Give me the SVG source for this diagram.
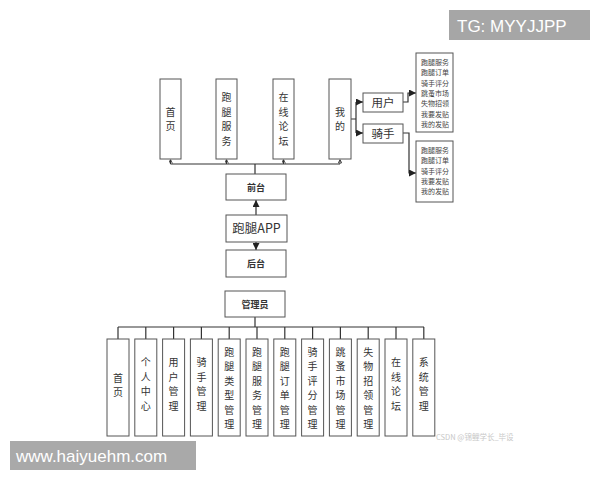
<svg xmlns="http://www.w3.org/2000/svg" width="600" height="480" viewBox="0 0 600 480">
<defs>
<style>
.b{fill:#fff;stroke:#555;stroke-width:1}
.t{font-family:"Noto Sans CJK SC","Liberation Serif",serif;font-size:10px;fill:#333;text-anchor:middle}
.l{font-family:"Noto Sans CJK SC","Liberation Serif",serif;font-size:11.5px;fill:#333;text-anchor:middle}
.s{font-family:"Noto Sans CJK SC","Liberation Sans",sans-serif;font-size:7px;fill:#444}
.m{font-family:"Noto Sans CJK SC","Liberation Sans",sans-serif;font-size:9px;fill:#333;text-anchor:middle;font-weight:bold}
.c{fill:none;stroke:#333;stroke-width:1.2}
.w{font-family:"Liberation Sans",Arial,sans-serif;fill:#fff}
</style>
<marker id="a" viewBox="0 0 10 10" refX="10" refY="5" markerWidth="7" markerHeight="7" markerUnits="userSpaceOnUse" orient="auto"><path d="M0 0L10 5L0 10z" fill="#222"/></marker>
<marker id="u" viewBox="0 0 10 10" refX="10" refY="5" markerWidth="4" markerHeight="4" markerUnits="userSpaceOnUse" orient="auto"><path d="M0 0L10 5L0 10" fill="none" stroke="#333" stroke-width="2"/></marker>
</defs>
<rect width="600" height="480" fill="#fff"/>

<g id="connectors">
<path class="c" d="M170.5 164H340M255 164V174"/>
<path class="c" d="M170.5 164V159.5" marker-end="url(#u)"/>
<path class="c" d="M226.5 164V159.5" marker-end="url(#u)"/>
<path class="c" d="M283.5 164V159.5" marker-end="url(#u)"/>
<path class="c" d="M340 164V159.5" marker-end="url(#u)"/>
<path class="c" d="M351 119H356M356 102V133"/>
<path class="c" d="M356 102H363" marker-end="url(#a)"/>
<path class="c" d="M356 133H363" marker-end="url(#a)"/>
<path class="c" d="M403 102H408V93H416" marker-end="url(#a)"/>
<path class="c" d="M403 133H409V173H416" marker-end="url(#a)"/>
<path class="c" d="M256 215V200" marker-end="url(#a)"/>
<path class="c" d="M256 242V250" marker-end="url(#a)"/>
<path class="c" d="M255 317V327M118 327H424M118 327V339M145.8 327V339M173.6 327V339M201.4 327V339M229.2 327V339M257 327V339M284.8 327V339M312.6 327V339M340.4 327V339M368.2 327V339M396 327V339M423.8 327V339"/>
</g>

<g id="n-shouye"><rect class="b" x="160" y="79" width="21" height="80"/><text class="t"><tspan x="170.5" y="115.5">首</tspan><tspan x="170.5" y="130">页</tspan></text></g>
<g id="n-paotui"><rect class="b" x="216" y="79" width="21" height="80"/><text class="t"><tspan x="226.5" y="101">跑</tspan><tspan x="226.5" y="115.5">腿</tspan><tspan x="226.5" y="130">服</tspan><tspan x="226.5" y="144.5">务</tspan></text></g>
<g id="n-luntan"><rect class="b" x="273" y="79" width="21" height="80"/><text class="t"><tspan x="283.5" y="101">在</tspan><tspan x="283.5" y="115.5">线</tspan><tspan x="283.5" y="130">论</tspan><tspan x="283.5" y="144.5">坛</tspan></text></g>
<g id="n-wode"><rect class="b" x="329" y="79" width="22" height="80"/><text class="t"><tspan x="340" y="115.5">我</tspan><tspan x="340" y="130">的</tspan></text></g>
<g id="n-yonghu"><rect class="b" x="363" y="93" width="40" height="19"/><text class="l" x="383" y="106.5">用户</text></g>
<g id="n-qishou"><rect class="b" x="363" y="124" width="40" height="19"/><text class="l" x="383" y="137.5">骑手</text></g>
<g id="n-list1"><rect class="b" x="416" y="53" width="37" height="79"/><text class="s"><tspan x="421" y="65">跑腿服务</tspan><tspan x="421" y="75.3">跑腿订单</tspan><tspan x="421" y="85.6">骑手评分</tspan><tspan x="421" y="95.9">跳蚤市场</tspan><tspan x="421" y="106.2">失物招领</tspan><tspan x="421" y="116.5">我要发贴</tspan><tspan x="421" y="126.8">我的发贴</tspan></text></g>
<g id="n-list2"><rect class="b" x="416" y="141" width="37" height="61"/><text class="s"><tspan x="421" y="153">跑腿服务</tspan><tspan x="421" y="163.3">跑腿订单</tspan><tspan x="421" y="173.6">骑手评分</tspan><tspan x="421" y="183.9">我要发贴</tspan><tspan x="421" y="194.2">我的发贴</tspan></text></g>
<g id="n-qiantai"><rect class="b" x="226" y="174" width="60" height="26"/><text class="m" x="256" y="190.5">前台</text></g>
<g id="n-app"><rect class="b" x="226" y="215" width="61" height="27"/><text class="l" x="256.5" y="233" style="font-size:12.5px">跑腿APP</text></g>
<g id="n-houtai"><rect class="b" x="226" y="250" width="60" height="27"/><text class="m" x="256" y="266.5">后台</text></g>
<g id="n-admin"><rect class="b" x="225" y="291" width="60" height="26"/><text class="m" x="255" y="307.5">管理员</text></g>

<g id="n-b1"><rect class="b" x="107" y="339" width="22" height="97"/><text class="t"><tspan x="118" y="381.5">首</tspan><tspan x="118" y="396">页</tspan></text></g>
<g id="n-b2"><rect class="b" x="134.8" y="339" width="22" height="97"/><text class="t"><tspan x="145.8" y="366">个</tspan><tspan x="145.8" y="380.5">人</tspan><tspan x="145.8" y="395">中</tspan><tspan x="145.8" y="409.5">心</tspan></text></g>
<g id="n-b3"><rect class="b" x="162.6" y="339" width="22" height="97"/><text class="t"><tspan x="173.6" y="366">用</tspan><tspan x="173.6" y="380.5">户</tspan><tspan x="173.6" y="395">管</tspan><tspan x="173.6" y="409.5">理</tspan></text></g>
<g id="n-b4"><rect class="b" x="190.4" y="339" width="22" height="97"/><text class="t"><tspan x="201.4" y="366">骑</tspan><tspan x="201.4" y="380.5">手</tspan><tspan x="201.4" y="395">管</tspan><tspan x="201.4" y="409.5">理</tspan></text></g>
<g id="n-b5"><rect class="b" x="218.2" y="339" width="22" height="97"/><text class="t"><tspan x="229.2" y="355.5">跑</tspan><tspan x="229.2" y="370">腿</tspan><tspan x="229.2" y="384.5">类</tspan><tspan x="229.2" y="399">型</tspan><tspan x="229.2" y="413.5">管</tspan><tspan x="229.2" y="428">理</tspan></text></g>
<g id="n-b6"><rect class="b" x="246" y="339" width="22" height="97"/><text class="t"><tspan x="257" y="355.5">跑</tspan><tspan x="257" y="370">腿</tspan><tspan x="257" y="384.5">服</tspan><tspan x="257" y="399">务</tspan><tspan x="257" y="413.5">管</tspan><tspan x="257" y="428">理</tspan></text></g>
<g id="n-b7"><rect class="b" x="273.8" y="339" width="22" height="97"/><text class="t"><tspan x="284.8" y="355.5">跑</tspan><tspan x="284.8" y="370">腿</tspan><tspan x="284.8" y="384.5">订</tspan><tspan x="284.8" y="399">单</tspan><tspan x="284.8" y="413.5">管</tspan><tspan x="284.8" y="428">理</tspan></text></g>
<g id="n-b8"><rect class="b" x="301.6" y="339" width="22" height="97"/><text class="t"><tspan x="312.6" y="355.5">骑</tspan><tspan x="312.6" y="370">手</tspan><tspan x="312.6" y="384.5">评</tspan><tspan x="312.6" y="399">分</tspan><tspan x="312.6" y="413.5">管</tspan><tspan x="312.6" y="428">理</tspan></text></g>
<g id="n-b9"><rect class="b" x="329.4" y="339" width="22" height="97"/><text class="t"><tspan x="340.4" y="355.5">跳</tspan><tspan x="340.4" y="370">蚤</tspan><tspan x="340.4" y="384.5">市</tspan><tspan x="340.4" y="399">场</tspan><tspan x="340.4" y="413.5">管</tspan><tspan x="340.4" y="428">理</tspan></text></g>
<g id="n-b10"><rect class="b" x="357.2" y="339" width="22" height="97"/><text class="t"><tspan x="368.2" y="355.5">失</tspan><tspan x="368.2" y="370">物</tspan><tspan x="368.2" y="384.5">招</tspan><tspan x="368.2" y="399">领</tspan><tspan x="368.2" y="413.5">管</tspan><tspan x="368.2" y="428">理</tspan></text></g>
<g id="n-b11"><rect class="b" x="385" y="339" width="22" height="97"/><text class="t"><tspan x="396" y="366">在</tspan><tspan x="396" y="380.5">线</tspan><tspan x="396" y="395">论</tspan><tspan x="396" y="409.5">坛</tspan></text></g>
<g id="n-b12"><rect class="b" x="412.8" y="339" width="22" height="97"/><text class="t"><tspan x="423.8" y="366">系</tspan><tspan x="423.8" y="380.5">统</tspan><tspan x="423.8" y="395">管</tspan><tspan x="423.8" y="409.5">理</tspan></text></g>

<text x="436" y="440" style="font-family:'Noto Sans CJK SC','Liberation Sans',sans-serif;font-size:7.5px;fill:#c8c8c8">CSDN @锦鲤学长_毕设</text>

<g id="wm-tg"><rect x="449" y="10" width="141" height="30" fill="#a6a6a6"/><text class="w" x="457" y="32" font-size="17">TG: MYYJJPP</text></g>
<g id="wm-url"><rect x="10" y="441" width="186" height="29" fill="#a9a9a9"/><text class="w" x="16" y="462" font-size="17">www.haiyuehm.com</text></g>
</svg>
